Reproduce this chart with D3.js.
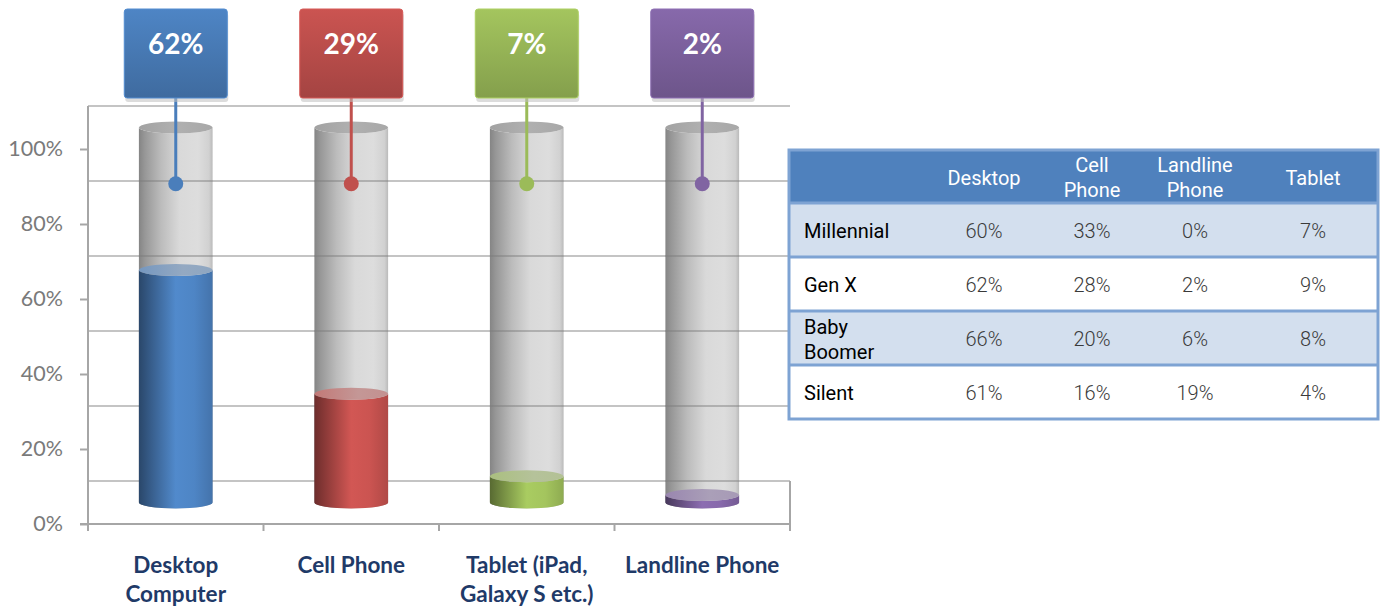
<!DOCTYPE html>
<html>
<head>
<meta charset="utf-8">
<script src="https://cdn.jsdelivr.net/npm/d3@7/dist/d3.min.js"></script>
<style>
  html, body { margin: 0; padding: 0; background: #fff; }
  svg { display: block; }
</style>
</head>
<body>
<svg id="chart" width="1380" height="607"></svg>
<script>
// ---- Device share (overall) ----
const categories = ["Desktop\nComputer", "Cell Phone", "Tablet (iPad,\nGalaxy S etc.)", "Landline Phone"];
const shares = [62, 29, 7, 2];
const seriesColors = ["#4a7ebb", "#c0504d", "#9bbb59", "#8064a2"];
const yTicks = [0, 20, 40, 60, 80, 100];

// ---- Device share by generation ----
const tableColumns = ["Desktop", "Cell\nPhone", "Landline\nPhone", "Tablet"];
const generations = ["Millennial", "Gen X", "Baby\nBoomer", "Silent"];
const desktopByGen = [60, 62, 66, 61];
const cellByGen = [33, 28, 20, 16];
const landlineByGen = [0, 2, 6, 19];
const tabletByGen = [7, 9, 8, 4];

const svg = d3.select("#chart");
const defs = svg.append("defs");

// 3D layout: front plane, back wall, and cylinder axis half-way between
const depth = 43;
const yFront = d3.scaleLinear().domain([0, 100]).range([524, 149]);
const yBack = v => yFront(v) - depth;
const yMid = v => yFront(v) - depth / 2;
const x = d3.scaleBand().domain(categories).range([88, 790]).paddingInner(0).paddingOuter(0);
const bw = x.bandwidth();
const rx = bw * 0.21, ry = 6;

// ---- back wall gridlines ----
const grid = svg.append("g");
grid.selectAll("line.g").data(yTicks).join("line")
  .attr("x1", 88).attr("x2", 790)
  .attr("y1", d => yBack(d)).attr("y2", d => yBack(d))
  .attr("stroke", "#c4c4c4").attr("stroke-width", 2);
// wall / floor edges
grid.append("line").attr("x1", 88).attr("x2", 88).attr("y1", yBack(100)).attr("y2", yFront(0))
  .attr("stroke", "#a6a6a6").attr("stroke-width", 2);
grid.append("line").attr("x1", 790).attr("x2", 790).attr("y1", yBack(0)).attr("y2", yFront(0) + 6)
  .attr("stroke", "#a6a6a6").attr("stroke-width", 2);

// ---- y axis ----
const yAxis = d3.axisLeft(yFront).tickValues(yTicks).tickFormat(d => d + "%").tickSize(8).tickPadding(17);
const yg = svg.append("g").attr("transform", "translate(88,0)").call(yAxis);
yg.select(".domain").remove();
yg.selectAll(".tick line").attr("stroke", "#a6a6a6").attr("stroke-width", 2);
yg.selectAll(".tick text").attr("fill", "#7a7a7a").style("font-family", "Lato, 'Open Sans', sans-serif")
  .style("font-size", "21.5px");

// ---- x axis ----
svg.append("line").attr("x1", 80).attr("x2", 790).attr("y1", yFront(0)).attr("y2", yFront(0))
  .attr("stroke", "#a6a6a6").attr("stroke-width", 2);
const edges = categories.map(c => x(c)).concat([x(categories[categories.length - 1]) + bw]);
svg.selectAll("line.xt").data(edges).join("line")
  .attr("x1", d => d).attr("x2", d => d).attr("y1", yFront(0)).attr("y2", yFront(0) + 7)
  .attr("stroke", "#a6a6a6").attr("stroke-width", 2);
const xl = svg.selectAll("text.xl").data(categories).join("text")
  .attr("x", d => x(d) + bw / 2).attr("y", 573)
  .attr("text-anchor", "middle")
  .attr("fill", "#1f3a68")
  .style("font-family", "Lato, 'Open Sans', sans-serif").style("font-weight", 700).style("font-size", "22.5px");
xl.each(function (d) {
  d3.select(this).selectAll("tspan").data(d.split("\n")).join("tspan")
    .attr("x", x(d) + bw / 2).attr("dy", (t, i) => i === 0 ? 0 : 29).text(t => t);
});

// ---- gradients ----
function hGrad(id, stops) {
  const g = defs.append("linearGradient").attr("id", id).attr("x1", 0).attr("x2", 1).attr("y1", 0).attr("y2", 0);
  stops.forEach(([o, c]) => g.append("stop").attr("offset", o).attr("stop-color", c));
}
hGrad("glass", [[0, "#7a7a7a"], [0.08, "#8e8e8e"], [0.3, "#b6b6b6"], [0.55, "#d6d6d6"], [0.8, "#dadada"], [0.95, "#cdcdcd"], [1, "#b4b4b4"]]);
hGrad("glassTop", [[0, "#a2a2a2"], [0.5, "#b0b0b0"], [1, "#a8a8a8"]]);
seriesColors.forEach((c, i) => {
  const base = d3.color(c);
  hGrad("fill" + i, [
    [0, base.darker(1.6)], [0.2, base.darker(0.7)], [0.5, base.brighter(0.25)],
    [0.75, base.brighter(0.15)], [1, base.darker(0.25)]
  ]);
  const mix = d3.interpolateRgb(c, "#c6c6c6");
  hGrad("fillTop" + i, [[0, mix(0.35)], [0.6, mix(0.6)], [1, mix(0.55)]]);
  const vg = defs.append("linearGradient").attr("id", "box" + i).attr("x1", 0).attr("x2", 0).attr("y1", 0).attr("y2", 1);
  vg.append("stop").attr("offset", 0).attr("stop-color", base.brighter(0.15));
  vg.append("stop").attr("offset", 1).attr("stop-color", base.darker(0.45));
});

function bodyPath(cx, yt, yb) {
  return `M${cx - rx},${yt} L${cx - rx},${yb} A${rx},${ry} 0 0 0 ${cx + rx},${yb} L${cx + rx},${yt} A${rx},${ry} 0 0 1 ${cx - rx},${yt} Z`;
}

// ---- cylinders ----
const cyl = svg.append("g").selectAll("g").data(categories).join("g");
// glass tube (full 100%)
cyl.append("path")
  .attr("d", d => bodyPath(x(d) + bw / 2, yMid(100), yMid(0)))
  .attr("fill", "url(#glass)").attr("opacity", 0.92);
cyl.append("ellipse")
  .attr("cx", d => x(d) + bw / 2).attr("cy", yMid(100)).attr("rx", rx).attr("ry", ry)
  .attr("fill", "url(#glassTop)");
// gridlines seen through the glass
cyl.append("g").selectAll("line").data(yTicks.filter(t => t < 100)).join("line")
  .attr("x1", function () { const d = d3.select(this.parentNode).datum(); return x(d) + bw / 2 - rx; })
  .attr("x2", function () { const d = d3.select(this.parentNode).datum(); return x(d) + bw / 2 + rx; })
  .attr("y1", t => yBack(t)).attr("y2", t => yBack(t))
  .attr("stroke", "#808080").attr("stroke-opacity", 0.45).attr("stroke-width", 2);
// coloured level
cyl.append("path")
  .attr("d", (d, i) => bodyPath(x(d) + bw / 2, yMid(shares[i]), yMid(0)))
  .attr("fill", (d, i) => `url(#fill${i})`);
cyl.append("ellipse")
  .attr("cx", d => x(d) + bw / 2).attr("cy", (d, i) => yMid(shares[i])).attr("rx", rx).attr("ry", ry)
  .attr("fill", (d, i) => `url(#fillTop${i})`);

// ---- value callouts ----
const boxW = 103, boxH = 89, boxTop = 9, markerLevel = 85;
const call = svg.append("g").selectAll("g").data(categories).join("g");
call.append("line")
  .attr("x1", d => x(d) + bw / 2).attr("x2", d => x(d) + bw / 2)
  .attr("y1", boxTop + boxH).attr("y2", yMid(markerLevel))
  .attr("stroke", (d, i) => seriesColors[i]).attr("stroke-width", 3);
call.append("circle")
  .attr("cx", d => x(d) + bw / 2).attr("cy", yMid(markerLevel)).attr("r", 7.5)
  .attr("fill", (d, i) => seriesColors[i]);
call.append("rect")
  .attr("x", d => x(d) + bw / 2 - boxW / 2 + 1).attr("y", boxTop + 4)
  .attr("width", boxW).attr("height", boxH).attr("rx", 3)
  .attr("fill", "#bfbfbf").attr("opacity", 0.55);
call.append("rect")
  .attr("x", d => x(d) + bw / 2 - boxW / 2).attr("y", boxTop)
  .attr("width", boxW).attr("height", boxH).attr("rx", 3)
  .attr("fill", (d, i) => `url(#box${i})`)
  .attr("stroke", (d, i) => d3.color(seriesColors[i]).brighter(0.3)).attr("stroke-width", 1);
call.append("text")
  .attr("x", d => x(d) + bw / 2).attr("y", boxTop + 34)
  .attr("text-anchor", "middle").attr("dominant-baseline", "central")
  .attr("fill", "#fff")
  .style("font-family", "Lato, 'Open Sans', sans-serif").style("font-weight", 700).style("font-size", "28px")
  .text((d, i) => shares[i] + "%");

// ---- table ----
const tbl = svg.append("g");
const tLeft = 789, tRight = 1378, tTop = 150, headH = 53, rowH = 54;
const colCenter = d3.scaleOrdinal().domain(tableColumns).range([984, 1092, 1195, 1313]);
const rowValues = generations.map((g, i) => [desktopByGen[i], cellByGen[i], landlineByGen[i], tabletByGen[i]]);
const borderC = "#7ea3d3";
const tFont = "Roboto, 'Noto Sans', sans-serif";

tbl.append("rect").attr("x", tLeft).attr("y", tTop).attr("width", tRight - tLeft).attr("height", headH)
  .attr("fill", "#4f81bd");
tbl.selectAll("rect.row").data(generations).join("rect")
  .attr("x", tLeft).attr("y", (d, i) => tTop + headH + i * rowH)
  .attr("width", tRight - tLeft).attr("height", rowH)
  .attr("fill", (d, i) => i % 2 === 0 ? "#d3dfee" : "#ffffff");
// horizontal rules
tbl.selectAll("line.rule").data(d3.range(1, generations.length + 1)).join("line")
  .attr("x1", tLeft).attr("x2", tRight)
  .attr("y1", i => tTop + headH + (i - 1) * rowH).attr("y2", i => tTop + headH + (i - 1) * rowH)
  .attr("stroke", borderC).attr("stroke-width", 3);
tbl.append("rect").attr("x", tLeft).attr("y", tTop).attr("width", tRight - tLeft)
  .attr("height", headH + rowH * generations.length)
  .attr("fill", "none").attr("stroke", borderC).attr("stroke-width", 3);

function multiline(sel, cx, cy, text, lh) {
  const lines = text.split("\n");
  sel.selectAll("tspan").data(lines).join("tspan")
    .attr("x", cx)
    .attr("y", (t, i) => cy + (i - (lines.length - 1) / 2) * lh)
    .text(t => t);
}
// header labels
tbl.selectAll("text.head").data(tableColumns).join("text")
  .attr("dominant-baseline", "central").attr("text-anchor", "middle")
  .attr("fill", "#ffffff").style("font-family", tFont).style("font-size", "20px")
  .each(function (d) { multiline(d3.select(this), colCenter(d), tTop + headH / 2 + 1, d, 25); });
// row labels
tbl.selectAll("text.rowlab").data(generations).join("text")
  .attr("dominant-baseline", "central")
  .attr("fill", "#000000").style("font-family", tFont).style("font-size", "20px")
  .each(function (d, i) { multiline(d3.select(this), tLeft + 15, tTop + headH + i * rowH + rowH / 2 + 1, d, 25); });
// cell values
generations.forEach((g, r) => {
  tbl.append("g").selectAll("text").data(rowValues[r]).join("text")
    .attr("x", (v, c) => colCenter(tableColumns[c]))
    .attr("y", tTop + headH + r * rowH + rowH / 2 + 1)
    .attr("dominant-baseline", "central").attr("text-anchor", "middle")
    .attr("fill", "#3a3a3a").style("font-family", tFont).style("font-weight", 300).style("font-size", "20px")
    .text(v => v + "%");
});
</script>
</body>
</html>
